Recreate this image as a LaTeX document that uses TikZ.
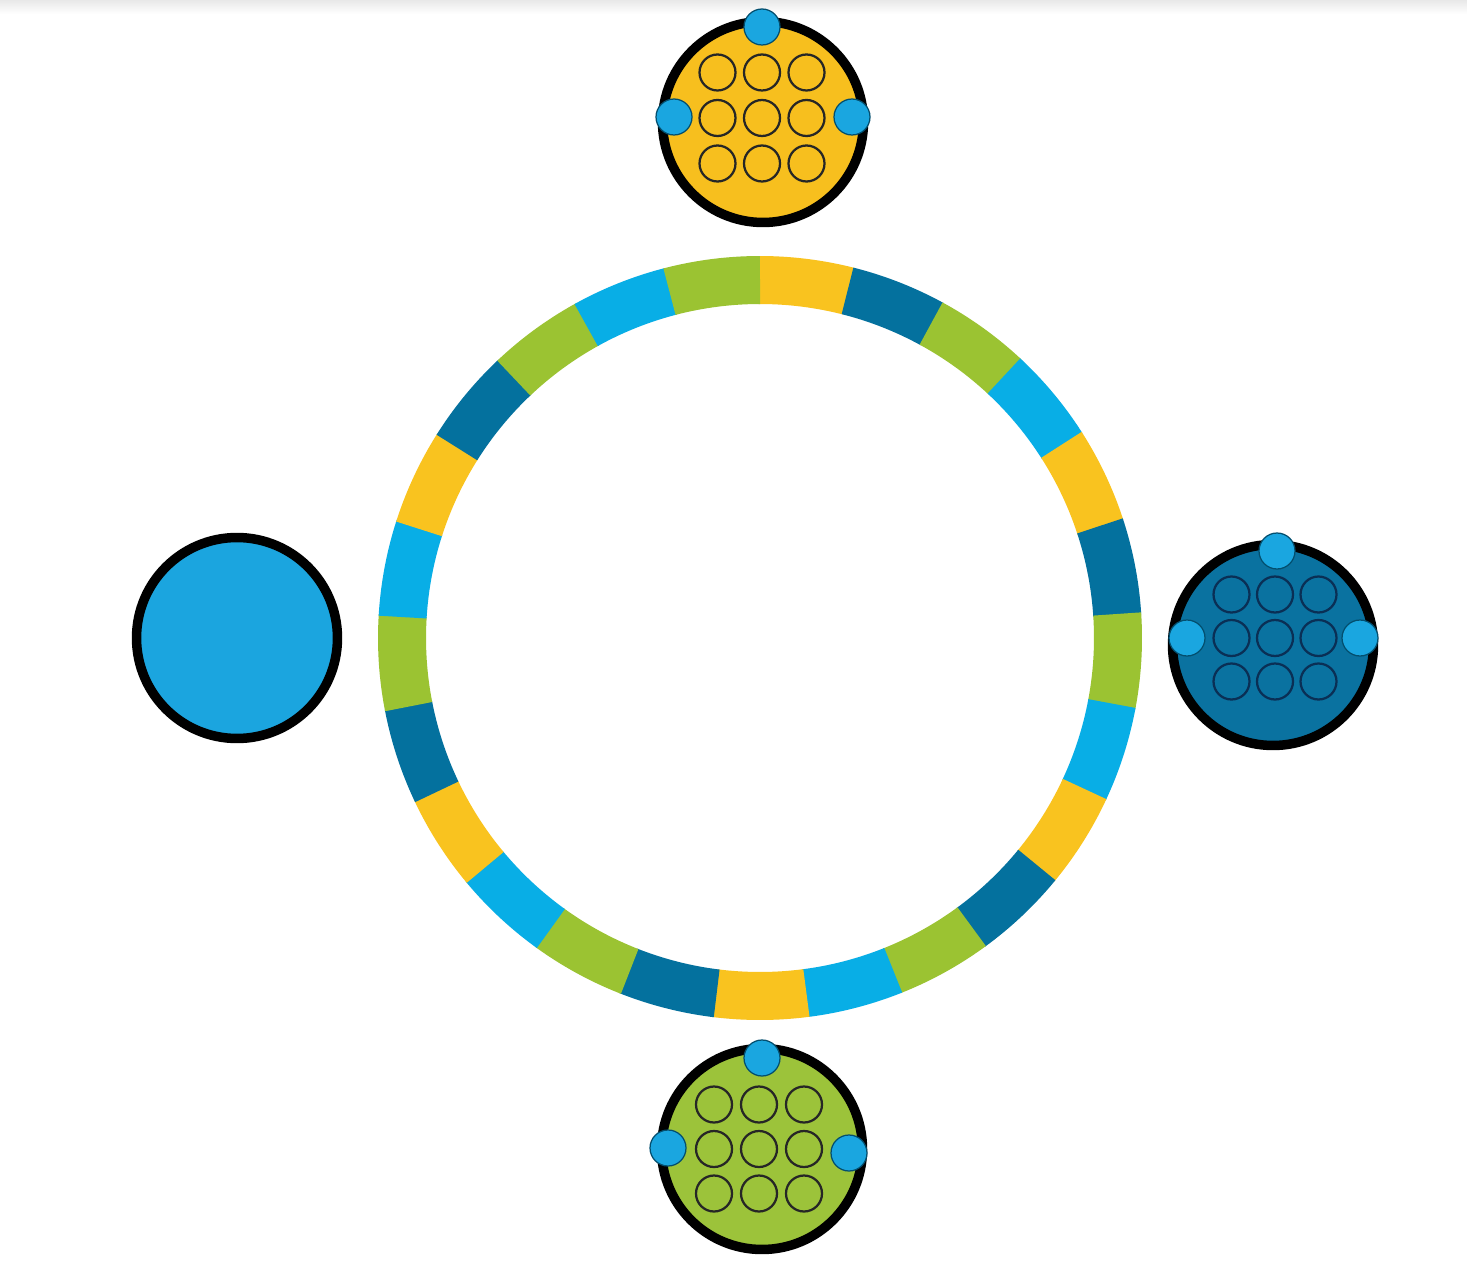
\documentclass[tikz,border=0pt]{standalone}
\definecolor{ringY}{HTML}{F9C31F}
\definecolor{ringD}{HTML}{04719E}
\definecolor{ringG}{HTML}{9BC332}
\definecolor{ringL}{HTML}{08AEE6}
\definecolor{nodeY}{HTML}{F7BF1E}
\definecolor{nodeD}{HTML}{0A72A0}
\definecolor{nodeG}{HTML}{9CC33A}
\definecolor{nodeL}{HTML}{1BA5DF}
\definecolor{dotL}{HTML}{1AA6E0}
\definecolor{navy}{HTML}{0A2F55}
\begin{document}
\begin{tikzpicture}[x=0.02cm,y=0.02cm,
  hub/.style={circle, draw=black, line width=0.19cm, minimum size=4.02cm, inner sep=0pt},
  port/.style={circle, fill=dotL, draw=ringD!70!black, line width=0.025cm, minimum size=0.72cm, inner sep=0pt},
  cell/.style={circle, draw=#1, line width=0.045cm, minimum size=0.72cm, inner sep=0pt}]
\useasboundingbox (0,0) rectangle (1467,-1267);
\fill[white] (0,0) rectangle (1467,-1267);
\shade[top color=gray!18, bottom color=white] (0,0) rectangle (1467,-14);

% segmented ring
\begin{scope}[shift={(760,-638)}]
\foreach \c [count=\k] in {ringY,ringD,ringG,ringL,ringY,ringD,ringG,ringL,ringY,ringD,ringG,ringL,ringY,ringD,ringG,ringL,ringY,ringD,ringG,ringL,ringY,ringD,ringG,ringL,ringG}{
  \pgfmathsetmacro\sa{90-(\k-1)*14.4+0.25}
  \pgfmathsetmacro\ea{90-\k*14.4}
  \fill[\c] (\sa:382) arc[start angle=\sa, end angle=\ea, radius=7.64cm]
     -- (\ea:334) arc[start angle=\ea, end angle=\sa, radius=6.68cm] -- cycle;
}
\end{scope}

% top (yellow) hub
\node[hub, fill=nodeY] (yhub) at (763,-122) {};
\foreach \i/\a in {-1/a,0/b,1/c}
  \foreach \j/\b in {-1/a,0/b,1/c}
    \node[cell=black!85] (ycell\a\b) at (762+\i*44.5,-118+\j*45.5) {};
\node[port] (ytop) at (762,-27) {};
\node[port] (yleft) at (674,-117) {};
\node[port] (yright) at (852,-117) {};

% right (dark blue) hub
\node[hub, fill=nodeD] (dhub) at (1273,-645) {};
\foreach \i/\a in {-1/a,0/b,1/c}
  \foreach \j/\b in {-1/a,0/b,1/c}
    \node[cell=navy] (dcell\a\b) at (1275+\i*43.5,-638+\j*43.5) {};
\node[port] (dtop) at (1277,-551) {};
\node[port] (dleft) at (1187,-638) {};
\node[port] (dright) at (1360,-638) {};

% bottom (green) hub
\node[hub, fill=nodeG] (ghub) at (762,-1149) {};
\foreach \i/\a in {-1/a,0/b,1/c}
  \foreach \j/\b in {-1/a,0/b,1/c}
    \node[cell=black!85] (gcell\a\b) at (759+\i*45,-1149+\j*44.5) {};
\node[port] (gtop) at (762,-1058) {};
\node[port] (gleft) at (668,-1148) {};
\node[port] (gright) at (849,-1153) {};

% left (light blue) hub
\node[hub, fill=nodeL] (lhub) at (237,-638) {};
\end{tikzpicture}
\end{document}
